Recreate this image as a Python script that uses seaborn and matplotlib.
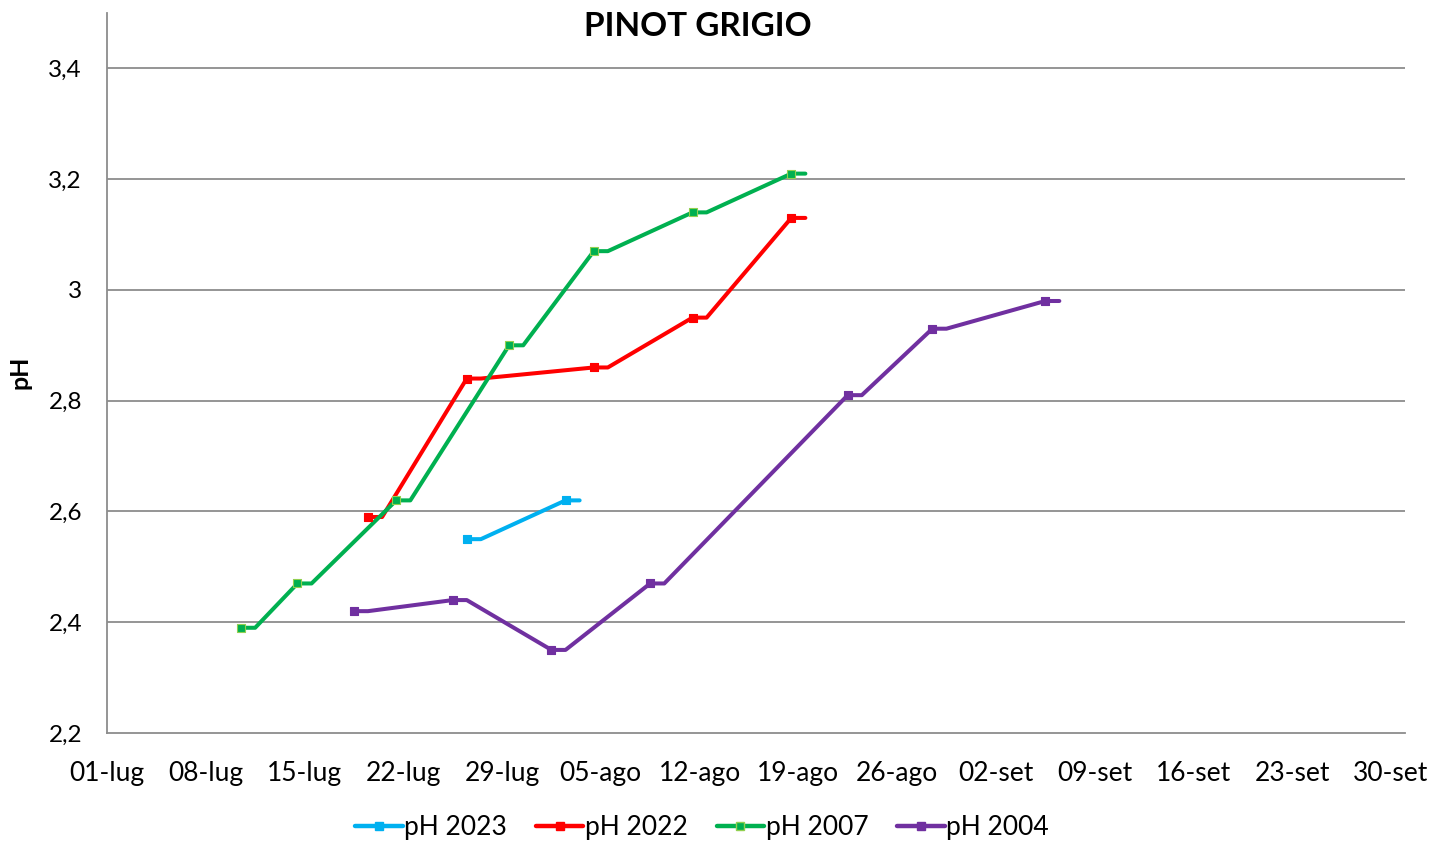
import pandas as pd
import numpy as np
import seaborn as sns
import matplotlib.pyplot as plt
from matplotlib.lines import Line2D

# data (sampling dates, pH values)
dates_2023 = ["2023-07-26", "2023-08-02"]
ph_2023 = [2.55, 2.62]

dates_2022 = ["2023-07-19", "2023-07-26", "2023-08-04", "2023-08-11", "2023-08-18"]
ph_2022 = [2.59, 2.84, 2.86, 2.95, 3.13]

dates_2007 = ["2023-07-10", "2023-07-14", "2023-07-21", "2023-07-29", "2023-08-04", "2023-08-11", "2023-08-18"]
ph_2007 = [2.39, 2.47, 2.62, 2.90, 3.07, 3.14, 3.21]

dates_2004 = ["2023-07-18", "2023-07-25", "2023-08-01", "2023-08-08", "2023-08-22", "2023-08-28", "2023-09-05"]
ph_2004 = [2.42, 2.44, 2.35, 2.47, 2.81, 2.93, 2.98]

tick_labels = ["01-lug", "08-lug", "15-lug", "22-lug", "29-lug", "05-ago", "12-ago",
               "19-ago", "26-ago", "02-set", "09-set", "16-set", "23-set", "30-set"]

series = ["pH 2023", "pH 2022", "pH 2007", "pH 2004"]
colors = {"pH 2023": "#00B0F0", "pH 2022": "#FF0000", "pH 2007": "#00B050", "pH 2004": "#7030A0"}
edge = {"pH 2023": "#00B0F0", "pH 2022": "#FF0000", "pH 2007": "#92D050", "pH 2004": "#7030A0"}

start = pd.Timestamp("2023-07-01")

def days(d):
    return (pd.to_datetime(d) - start).days + 0.5  # excel centres points on the day

rows_pts = []
rows_line = []
for name, d, v in zip(series, [dates_2023, dates_2022, dates_2007, dates_2004],
                      [ph_2023, ph_2022, ph_2007, ph_2004]):
    for di, vi in zip(d, v):
        x = days(di)
        rows_pts.append({"serie": name, "x": x, "pH": vi})
        # excel draws a short flat piece after each point
        rows_line.append({"serie": name, "x": x, "pH": vi})
        rows_line.append({"serie": name, "x": x + 1, "pH": vi})
pts = pd.DataFrame(rows_pts)
lines = pd.DataFrame(rows_line)

sns.set_style("white")
plt.rcParams['font.family'] = ['Lato', 'DejaVu Sans']
plt.rcParams['text.color'] = 'black'

fig = plt.figure(figsize=(14.29, 8.43), dpi=100)
ax = fig.add_axes([107 / 1429, 1 - 733 / 843, (1405 - 107) / 1429, (733 - 13) / 843])

sns.lineplot(data=lines, x="x", y="pH", hue="serie", hue_order=series, palette=colors,
             estimator=None, sort=False, linewidth=2.9, legend=False, ax=ax)
for name in series:
    sub = pts[pts.serie == name]
    ax.scatter(sub.x, sub.pH, marker="s", s=34, color=colors[name],
               edgecolors=edge[name], linewidths=0.8, zorder=5)

ax.set_xlim(0, 92)
ax.set_ylim(2.2, 3.5)
ax.set_xticks(np.arange(0, 92, 7))
ax.set_xticklabels(tick_labels)
ax.set_yticks([2.2, 2.4, 2.6, 2.8, 3.0, 3.2, 3.4])
ax.set_yticklabels(["2,2", "2,4", "2,6", "2,8", "3", "3,2", "3,4"])
ax.tick_params(axis="both", length=6, width=1, direction="out", color="#8c8c8c",
               labelcolor="black")
ax.tick_params(axis="x", labelsize=19, pad=14)
ax.tick_params(axis="y", labelsize=17.5, pad=12)

for y in [2.4, 2.6, 2.8, 3.0, 3.2, 3.4]:
    ax.axhline(y, color="#8c8c8c", linewidth=1.3, zorder=0)

for s in ["top", "right"]:
    ax.spines[s].set_visible(False)
for s in ["left", "bottom"]:
    ax.spines[s].set_color("#8c8c8c")
    ax.spines[s].set_linewidth(1.3)

ax.set_xlabel("")
ax.set_ylabel("")
fig.text(20 / 1429, 1 - 372 / 843, "pH", rotation=90, ha="center", va="center",
         fontsize=18, fontweight="bold", color="black")

fig.text(698 / 1429, 1 - 27 / 843, "PINOT GRIGIO", ha="center", va="center",
         fontsize=24, fontweight="bold", color="black")

handles = [Line2D([0], [0], color=colors[n], linewidth=3.2, marker="s", markersize=6,
                  markerfacecolor=colors[n], markeredgecolor=edge[n]) for n in series]
fig.legend(handles, series, loc="center", bbox_to_anchor=(702 / 1429, 1 - 828 / 843),
           ncol=4, frameon=False, fontsize=19, handlelength=1.8, handletextpad=0.05,
           columnspacing=1.1, labelcolor="black")

fig.savefig("out.png", dpi=100)
